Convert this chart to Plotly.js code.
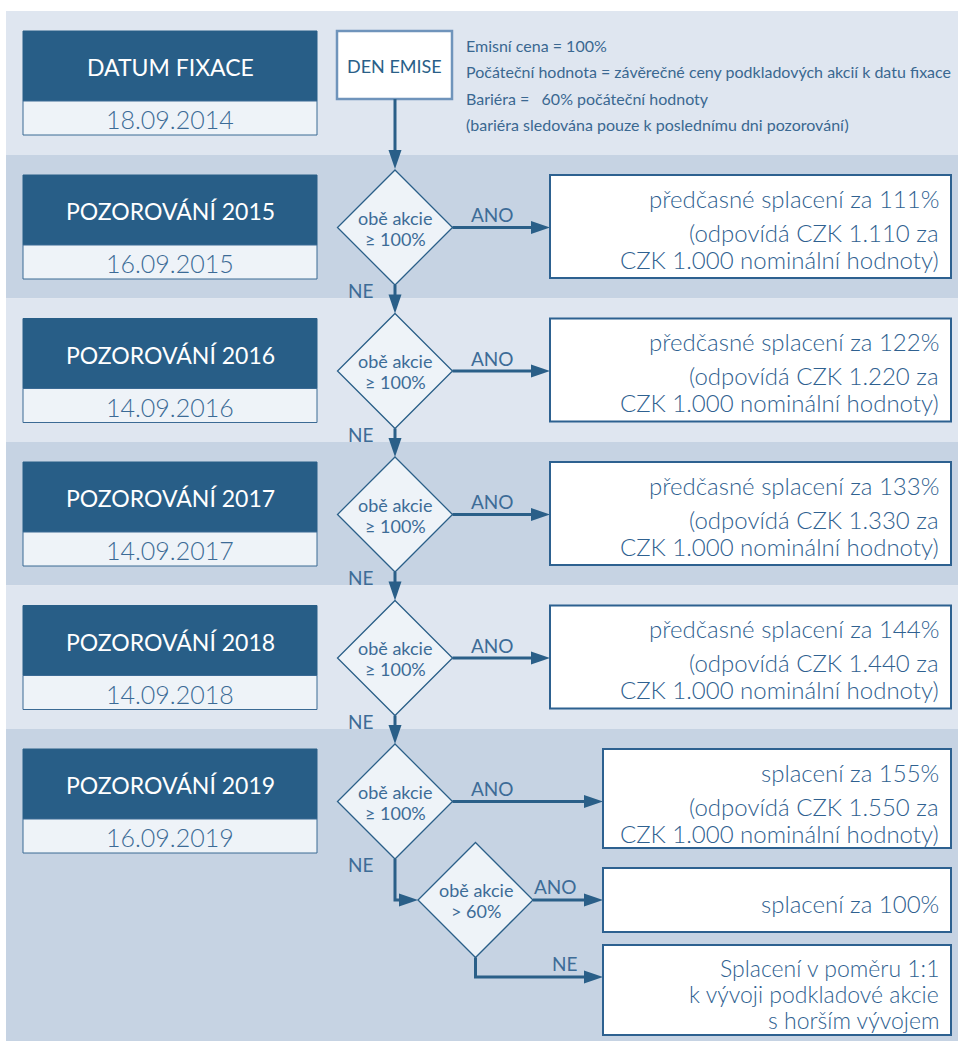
<!DOCTYPE html>
<html>
<head>
<meta charset="utf-8">
<script src="https://cdn.plot.ly/plotly-3.0.1.min.js"></script>
<style>html,body{margin:0;padding:0;background:#fff;}#chart{width:958px;height:1041px;}</style>
</head>
<body>
<div id="chart"></div>
<script>
// ---------- data ----------
const fixTitle = 'DATUM FIXACE';
const fixDate = '18.09.2014';
const issueLabel = 'DEN EMISE';
const notes = [
  'Emisní cena = 100%',
  'Počáteční hodnota = závěrečné ceny podkladových akcií k datu fixace',
  'Bariéra =\u00a0\u00a0 60% počáteční hodnoty',
  '(bariéra sledována pouze k poslednímu dni pozorování)'
];
const obsTitles = ['POZOROVÁNÍ 2015', 'POZOROVÁNÍ 2016', 'POZOROVÁNÍ 2017', 'POZOROVÁNÍ 2018', 'POZOROVÁNÍ 2019'];
const obsDates = ['16.09.2015', '14.09.2016', '14.09.2017', '14.09.2018', '16.09.2019'];
const payoutPct = ['111%', '122%', '133%', '144%', '155%'];
const payoutCZK = ['1.110', '1.220', '1.330', '1.440', '1.550'];
const nominal = '1.000';
const condition1 = ['obě akcie', '≥ 100%'];
const condition2 = ['obě akcie', '> 60%'];
const yesLabel = 'ANO';
const noLabel = 'NE';
const finalYes = 'splacení za 100%';
const finalNo = ['Splacení v poměru 1:1', 'k vývoji podkladové akcie', 's horším vývojem'];

// ---------- style ----------
const FONT = 'Lato, "Open Sans", sans-serif';
const DARK = '#285e87';
const LINE = '#2a5f88';
const TXT = '#3d6c97';
const TXT_L = '#2f6190';
const BAND_L = '#dfe6f0';
const BAND_D = '#c6d3e3';
const PALE = '#eef3f8';

const shapes = [];
const ann = [];
function rect(x0, y0, x1, y1, fill, lc, lw) {
  shapes.push({type: 'rect', xref: 'x', yref: 'y', x0, y0, x1, y1, fillcolor: fill,
    line: {color: lc || fill, width: lw === undefined ? 0 : lw}, layer: 'below'});
}
function path(d, fill, lc, lw) {
  shapes.push({type: 'path', xref: 'x', yref: 'y', path: d, fillcolor: fill || 'rgba(0,0,0,0)',
    line: {color: lc || LINE, width: lw === undefined ? 0 : lw}, layer: 'below'});
}
function text(t, x, y, size, color, xa, weight) {
  ann.push({text: t, x, y, xref: 'x', yref: 'y', showarrow: false, xanchor: xa || 'center', yanchor: 'middle',
    font: {family: FONT, size, color, weight: weight || 400},
    align: xa === 'right' ? 'right' : (xa === 'left' ? 'left' : 'center')});
}
function arrowDown(x, y0, y1) {
  path(`M${x},${y0} L${x},${y1 - 17}`, null, LINE, 3);
  path(`M${x - 6.5},${y1 - 19} L${x + 6.5},${y1 - 19} L${x},${y1} Z`, LINE, LINE, 0);
}
function arrowRight(x0, x1, y) {
  path(`M${x0},${y} L${x1 - 17},${y}`, null, LINE, 3);
  path(`M${x1 - 19},${y - 6.5} L${x1 - 19},${y + 6.5} L${x1},${y} Z`, LINE, LINE, 0);
}
function diamond(cx, cy, r, lines) {
  path(`M${cx},${cy - r} L${cx + r},${cy} L${cx},${cy + r} L${cx - r},${cy} Z`, PALE, LINE, 1.3);
  text(lines[0], cx, cy - 10, 18, TXT);
  text(lines[1], cx, cy + 11, 18, TXT);
}
function titleBox(top, title, date) {
  rect(23, top + 20, 317, top + 90, DARK, DARK, 1);
  rect(23, top + 90, 317, top + 124, PALE, '#3b6a94', 1);
  text(title, 170, top + 56, 23, '#ffffff');
  text(date, 170, top + 108, 25, '#3c6b96', 'center', 300);
}

// ---------- bands ----------
const bandTops = [11, 155, 298.5, 442, 585.5, 729, 1041];
for (let i = 0; i < 6; i++) rect(6, bandTops[i], 958, bandTops[i + 1], i % 2 === 0 ? BAND_L : BAND_D);

titleBox(11, fixTitle, fixDate);
rect(337, 31, 452, 99, '#ffffff', '#6f94bb', 2.5);
text(issueLabel, 394.5, 66, 18, LINE);
notes.forEach((n, i) => text(n, 464, 45 + i * 26.5, 16, '#3a6891', 'left'));
arrowDown(395, 99, 169);

const CX = 395, R = 57.5, RS = 24;
for (let i = 0; i < obsTitles.length; i++) {
  const top = bandTops[i + 1];
  const cy = top + 72.5;
  titleBox(top, obsTitles[i], obsDates[i]);
  diamond(CX, cy, R, condition1);
  const last = i === obsTitles.length - 1;
  const bx0 = last ? 603 : 550;
  const by0 = top + 20;
  const by1 = last ? top + 119 : top + 123;
  arrowRight(CX + R, bx0, cy);
  text(yesLabel, 492, cy - 13, 19, TXT);
  rect(bx0, by0, 951, by1, '#ffffff', '#2d6190', 2);
  const l1 = (last ? 'splacení za ' : 'předčasné splacení za ') + payoutPct[i];
  text(l1, 941, by0 + 23, RS, TXT_L, 'right', 300);
  text('(odpovídá CZK ' + payoutCZK[i] + ' za', 941, by0 + 57, RS, TXT_L, 'right', 300);
  text('CZK ' + nominal + ' nominální hodnoty)', 941, by0 + 84, RS, TXT_L, 'right', 300);
  text(noLabel, 361, cy + 63, 19, TXT);
  if (!last) {
    arrowDown(CX, cy + R, bandTops[i + 2] + 72.5 - R);
  } else {
    const cx2 = 475.5, cy2 = 900;
    path(`M${CX},${cy + R} L${CX},${cy2} L${cx2 - R - 17},${cy2}`, null, LINE, 3);
    path(`M${cx2 - R - 19},${cy2 - 6.5} L${cx2 - R - 19},${cy2 + 6.5} L${cx2 - R},${cy2} Z`, LINE, LINE, 0);
    diamond(cx2, cy2, R, condition2);
    arrowRight(cx2 + R, 603, cy2);
    text(yesLabel, 555, 886, 19, TXT);
    rect(603, 868, 951, 932, '#ffffff', '#2d6190', 2);
    text(finalYes, 941, 903, RS, TXT_L, 'right', 300);
    path(`M${cx2},${cy2 + R} L${cx2},977 L${603 - 17},977`, null, LINE, 3);
    path(`M${603 - 19},970.5 L${603 - 19},983.5 L603,977 Z`, LINE, LINE, 0);
    text(noLabel, 565, 963, 19, TXT);
    rect(603, 945, 951, 1035, '#ffffff', '#2d6190', 2);
    finalNo.forEach((t, k) => text(t, 941, 968 + k * 26, 23, TXT_L, 'right', 300));
  }
}

const layout = {
  width: 958, height: 1041,
  margin: {l: 0, r: 0, t: 0, b: 0},
  paper_bgcolor: '#ffffff', plot_bgcolor: '#ffffff',
  showlegend: false,
  xaxis: {range: [0, 958], visible: false, fixedrange: true},
  yaxis: {range: [1041, 0], visible: false, fixedrange: true},
  shapes: shapes,
  annotations: ann
};
Plotly.newPlot('chart', [{x: [0], y: [0], mode: 'markers', marker: {opacity: 0}, hoverinfo: 'skip'}], layout, {displayModeBar: false, staticPlot: true});
</script>
</body>
</html>
